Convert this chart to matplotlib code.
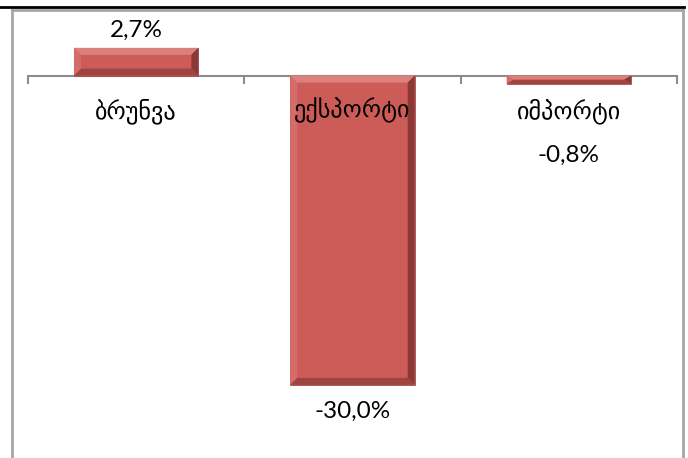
import numpy as np
import matplotlib
matplotlib.use("Agg")
import matplotlib.pyplot as plt
from matplotlib.patches import Polygon
from matplotlib.lines import Line2D

categories = ["ბრუნვა", "ექსპორტი", "იმპორტი"]
values = [2.7, -30.0, -0.8]
value_labels = ["2,7%", "-30,0%", "-0,8%"]

num_font = ["Lato", "DejaVu Sans"]
geo_font = ["DejaVu Sans"]

fig = plt.figure(figsize=(6.88, 4.58), dpi=100)
ax = fig.add_axes([28 / 688, 0.0, 649 / 688, 1 - 20 / 458])

x = np.arange(len(categories))
bar_w = 0.575
face = "#CD5B58"
bars = ax.bar(x, values, width=bar_w, color=face, edgecolor="#A8504D",
              linewidth=0.6, zorder=3)

ax.set_xlim(-0.5, len(categories) - 0.5)
ax.set_ylim(-37.1, 5.4)

# bevel look on each bar, sizes taken from the bar itself
fig.canvas.draw()
px_x = ax.transData.transform((1, 0))[0] - ax.transData.transform((0, 0))[0]
px_y = ax.transData.transform((0, 1))[1] - ax.transData.transform((0, 0))[1]
bev_px = 7
for b in bars:
    x0, w = b.get_x(), b.get_width()
    y0, h = b.get_y(), b.get_height()
    y_lo, y_hi = min(y0, y0 + h), max(y0, y0 + h)
    bx = bev_px / px_x
    by = min(bev_px / px_y, (y_hi - y_lo) / 2)
    bx = min(bx, w / 2)
    x1 = x0 + w
    top = [(x0, y_hi), (x1, y_hi), (x1 - bx, y_hi - by), (x0 + bx, y_hi - by)]
    bot = [(x0, y_lo), (x1, y_lo), (x1 - bx, y_lo + by), (x0 + bx, y_lo + by)]
    left = [(x0, y_lo), (x0, y_hi), (x0 + bx, y_hi - by), (x0 + bx, y_lo + by)]
    right = [(x1, y_lo), (x1, y_hi), (x1 - bx, y_hi - by), (x1 - bx, y_lo + by)]
    for pts, c in [(left, "#D46D6A"), (top, "#DC807D"),
                   (right, "#8A3936"), (bot, "#9E4441")]:
        ax.add_patch(Polygon(pts, closed=True, facecolor=c, edgecolor="none",
                             zorder=3.5))

# axis at zero with tick marks between categories
for s in ["top", "right", "left"]:
    ax.spines[s].set_visible(False)
ax.spines["bottom"].set_position(("data", 0))
ax.spines["bottom"].set_color("#8C8C8C")
ax.spines["bottom"].set_linewidth(1.5)
ax.set_yticks([])
ax.set_xticks(np.arange(len(categories) + 1) - 0.5)
ax.set_xticklabels([])
ax.tick_params(axis="x", direction="out", length=6, width=1.5, color="#8C8C8C")
ax.patch.set_alpha(0)

# category labels
for i, name in enumerate(categories):
    ax.text(x[i], -3.4, name, ha="center", va="center", fontsize=17.5,
            family=geo_font, zorder=5)

# value labels
for i, (v, lab) in enumerate(zip(values, value_labels)):
    if v >= 0:
        ypos = v + 1.7
    elif v < -5:
        ypos = v - 2.6
    else:
        ypos = -7.7
    ax.text(x[i], ypos, lab, ha="center", va="center", fontsize=17.5,
            family=num_font, zorder=5)

# frame lines
grey = "#A6A6A6"
fig.add_artist(Line2D([12 / 688, 12 / 688], [0, 1 - 10 / 458], color=grey, lw=2))
fig.add_artist(Line2D([683 / 688, 683 / 688], [0, 1 - 10 / 458], color=grey, lw=2))
fig.add_artist(Line2D([12 / 688, 683 / 688], [1 - 10 / 458, 1 - 10 / 458], color=grey, lw=2))
fig.add_artist(Line2D([0, 684 / 688], [1 - 7 / 458, 1 - 7 / 458], color="black", lw=2))

fig.savefig("out.png", dpi=100)
